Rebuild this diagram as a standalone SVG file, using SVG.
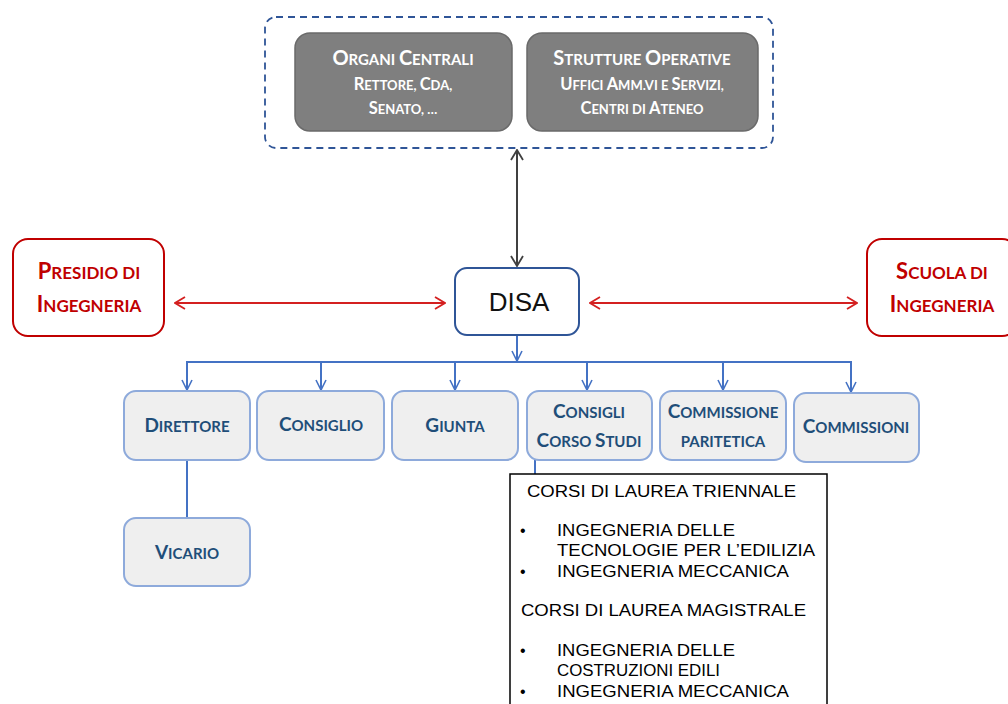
<svg xmlns="http://www.w3.org/2000/svg" width="1008" height="704" viewBox="0 0 1008 704">
<style>
.sc{font-family:Lato,"Open Sans","Liberation Sans",sans-serif;font-weight:bold;text-anchor:middle}
.gray rect{fill:#7f7f7f;stroke:#6a6a6a;stroke-width:1.5}
.gray text{fill:#ffffff}
.t{font-size:15px}.t .b{font-size:20px}
.s{font-size:13px}.s .b{font-size:16.5px}
.red rect{fill:#ffffff;stroke:#c00000;stroke-width:2}
.red text{fill:#c00000;font-size:17px}
.red .b{font-size:22px}
.blue rect{fill:#efefef;stroke:#8eaadb;stroke-width:2}
.blue text{fill:#1f4e79;font-size:15px}
.blue .b{font-size:19px}
.list{font-family:"Liberation Sans",Arial,sans-serif;font-size:16px;fill:#000}
</style>
<defs>
<marker id="ab" viewBox="0 0 12 12" refX="11" refY="6" markerWidth="12" markerHeight="12" markerUnits="userSpaceOnUse" orient="auto-start-reverse">
<path d="M1,1 L11,6 L1,11" fill="none" stroke="#4472c4" stroke-width="1.6"/>
</marker>
<marker id="ar" viewBox="0 0 12 14" refX="11" refY="7" markerWidth="12" markerHeight="14" markerUnits="userSpaceOnUse" orient="auto-start-reverse">
<path d="M1,1 L11,7 L1,13" fill="none" stroke="#d42020" stroke-width="1.8"/>
</marker>
<marker id="ag" viewBox="0 0 12 14" refX="11" refY="7" markerWidth="12" markerHeight="14" markerUnits="userSpaceOnUse" orient="auto-start-reverse">
<path d="M1,1 L11,7 L1,13" fill="none" stroke="#404040" stroke-width="1.8"/>
</marker>
</defs>
<rect width="1008" height="704" fill="#ffffff"/>

<g id="connectors" fill="none">
<line x1="517" y1="150" x2="517" y2="266" stroke="#404040" stroke-width="2" marker-start="url(#ag)" marker-end="url(#ag)"/>
<line x1="175" y1="303" x2="445" y2="303" stroke="#d42020" stroke-width="2" marker-start="url(#ar)" marker-end="url(#ar)"/>
<line x1="590" y1="303" x2="857" y2="303" stroke="#d42020" stroke-width="2" marker-start="url(#ar)" marker-end="url(#ar)"/>
<line x1="517" y1="335" x2="517" y2="361" stroke="#4472c4" stroke-width="2" marker-end="url(#ab)"/>
<polyline points="187,390 187,362 851,362 851,390" stroke="#4472c4" stroke-width="2"/>
<line x1="187" y1="362" x2="187" y2="390" stroke="#4472c4" stroke-width="2" marker-end="url(#ab)"/>
<line x1="321" y1="362" x2="321" y2="390" stroke="#4472c4" stroke-width="2" marker-end="url(#ab)"/>
<line x1="455" y1="362" x2="455" y2="390" stroke="#4472c4" stroke-width="2" marker-end="url(#ab)"/>
<line x1="587" y1="362" x2="587" y2="390" stroke="#4472c4" stroke-width="2" marker-end="url(#ab)"/>
<line x1="723" y1="362" x2="723" y2="390" stroke="#4472c4" stroke-width="2" marker-end="url(#ab)"/>
<line x1="851" y1="362" x2="851" y2="392" stroke="#4472c4" stroke-width="2" marker-end="url(#ab)"/>
<line x1="187" y1="460" x2="187" y2="518" stroke="#4472c4" stroke-width="2"/>
<line x1="535" y1="460" x2="535" y2="474" stroke="#4472c4" stroke-width="2"/>
</g>

<g id="ateneo">
<rect x="265" y="17" width="508" height="131" rx="11" fill="none" stroke="#2f5597" stroke-width="1.8" stroke-dasharray="7,5"/>
</g>
<g id="organi" class="gray">
<rect x="295" y="33" width="217" height="98" rx="15"/>
<text class="sc t" x="403" y="65"><tspan class="b">O</tspan>RGANI <tspan class="b">C</tspan>ENTRALI</text>
<text class="sc s" x="403" y="90"><tspan class="b">R</tspan>ETTORE, <tspan class="b">C</tspan>DA,</text>
<text class="sc s" x="403" y="114"><tspan class="b">S</tspan>ENATO, …</text>
</g>
<g id="strutture" class="gray">
<rect x="527" y="33" width="231" height="98" rx="15"/>
<text class="sc t" x="642" y="65"><tspan class="b">S</tspan>TRUTTURE <tspan class="b">O</tspan>PERATIVE</text>
<text class="sc s" x="642" y="90"><tspan class="b">U</tspan>FFICI <tspan class="b">A</tspan>MM.VI E <tspan class="b">S</tspan>ERVIZI,</text>
<text class="sc s" x="642" y="114"><tspan class="b">C</tspan>ENTRI DI <tspan class="b">A</tspan>TENEO</text>
</g>

<g id="presidio" class="red">
<rect x="13" y="239" width="151" height="97" rx="15"/>
<text class="sc" x="89" y="279"><tspan class="b">P</tspan>RESIDIO DI</text>
<text class="sc" x="89" y="312"><tspan class="b">I</tspan>NGEGNERIA</text>
</g>
<g id="scuola" class="red">
<rect x="867" y="239" width="150" height="97" rx="15"/>
<text class="sc" x="942" y="279"><tspan class="b">S</tspan>CUOLA DI</text>
<text class="sc" x="942" y="312"><tspan class="b">I</tspan>NGEGNERIA</text>
</g>
<g id="disa">
<rect x="455" y="268" width="124" height="67" rx="12" fill="#ffffff" stroke="#2f5597" stroke-width="2"/>
<text x="519" y="311" font-family="'Liberation Sans',Arial,sans-serif" font-size="26" text-anchor="middle" fill="#111">DISA</text>
</g>

<g id="direttore" class="blue">
<rect x="124" y="391" width="126" height="69" rx="12"/>
<text class="sc" x="187" y="432"><tspan class="b">D</tspan>IRETTORE</text>
</g>
<g id="consiglio" class="blue">
<rect x="257" y="391" width="127" height="69" rx="12"/>
<text class="sc" x="321" y="431"><tspan class="b">C</tspan>ONSIGLIO</text>
</g>
<g id="giunta" class="blue">
<rect x="392" y="391" width="126" height="69" rx="12"/>
<text class="sc" x="455" y="432"><tspan class="b">G</tspan>IUNTA</text>
</g>
<g id="consigli-cs" class="blue">
<rect x="527" y="391" width="125" height="69" rx="12"/>
<text class="sc" x="589" y="418"><tspan class="b">C</tspan>ONSIGLI</text>
<text class="sc" x="589" y="447"><tspan class="b">C</tspan>ORSO <tspan class="b">S</tspan>TUDI</text>
</g>
<g id="commissione-paritetica" class="blue">
<rect x="660" y="391" width="126" height="69" rx="12"/>
<text class="sc" x="723" y="418"><tspan class="b">C</tspan>OMMISSIONE</text>
<text class="sc" x="723" y="447">PARITETICA</text>
</g>
<g id="commissioni" class="blue">
<rect x="794" y="393" width="125" height="69" rx="12"/>
<text class="sc" x="856" y="433"><tspan class="b">C</tspan>OMMISSIONI</text>
</g>
<g id="vicario" class="blue">
<rect x="124" y="518" width="126" height="68" rx="12"/>
<text class="sc" x="187" y="559"><tspan class="b">V</tspan>ICARIO</text>
</g>

<g id="corsi">
<rect x="510" y="474" width="317" height="240" fill="#ffffff" stroke="#000" stroke-width="1.5"/>
<text class="list" x="527" y="497" textLength="269" lengthAdjust="spacingAndGlyphs">CORSI DI LAUREA TRIENNALE</text>
<text class="list" x="520" y="536">•</text>
<text class="list" x="557" y="536" textLength="178" lengthAdjust="spacingAndGlyphs">INGEGNERIA DELLE</text>
<text class="list" x="557" y="556" textLength="258" lengthAdjust="spacingAndGlyphs">TECNOLOGIE PER L’EDILIZIA</text>
<text class="list" x="520" y="577">•</text>
<text class="list" x="557" y="577" textLength="232" lengthAdjust="spacingAndGlyphs">INGEGNERIA MECCANICA</text>
<text class="list" x="521" y="616" textLength="285" lengthAdjust="spacingAndGlyphs">CORSI DI LAUREA MAGISTRALE</text>
<text class="list" x="520" y="656">•</text>
<text class="list" x="557" y="656" textLength="178" lengthAdjust="spacingAndGlyphs">INGEGNERIA DELLE</text>
<text class="list" x="557" y="676" textLength="163" lengthAdjust="spacingAndGlyphs">COSTRUZIONI EDILI</text>
<text class="list" x="520" y="697">•</text>
<text class="list" x="557" y="697" textLength="232" lengthAdjust="spacingAndGlyphs">INGEGNERIA MECCANICA</text>
</g>
</svg>
